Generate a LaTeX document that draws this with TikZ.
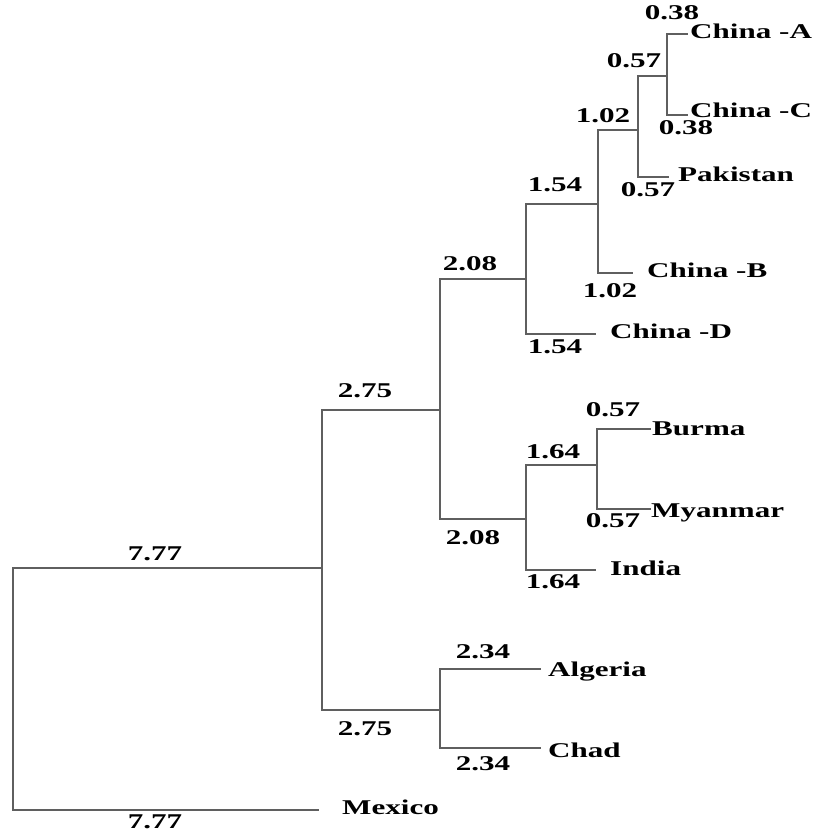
\documentclass[tikz,border=0pt]{standalone}
\usepackage{fontspec}
\newfontfamily\labfont[FakeStretch=1.48]{Liberation Serif}
\definecolor{branch}{RGB}{95,95,95}
\tikzset{
  br/.style={draw=branch, line width=1.8pt, line cap=rect},
  lab/.style={font=\labfont\bfseries\fontsize{21}{25}\selectfont, inner sep=0pt, text height=14pt, text depth=4pt},
  leaf/.style={lab, anchor=west},
}
\begin{document}
\begin{tikzpicture}[x=1pt,y=-1pt]
\useasboundingbox (0,0) rectangle (820,834);
% internal nodes
\coordinate (n0) at (13,689);
\coordinate (n1) at (322,568);
\coordinate (n2) at (440,410);
\coordinate (n3) at (526,279);
\coordinate (n4) at (598,204);
\coordinate (n5) at (638,130);
\coordinate (n6) at (667,76);
\coordinate (n7) at (526,519);
\coordinate (n8) at (597,465);
\coordinate (n9) at (440,710);
% tips
\coordinate (tA) at (687,34);
\coordinate (tC) at (687,115);
\coordinate (tP) at (668,177);
\coordinate (tB) at (632,273);
\coordinate (tD) at (595,334);
\coordinate (tBu) at (650,429);
\coordinate (tMy) at (650,509);
\coordinate (tIn) at (595,570);
\coordinate (tAl) at (540,669);
\coordinate (tCh) at (540,748);
\coordinate (tMe) at (318,810);
% branches
\draw[br] (n1) -| (n0) |- (tMe);
\draw[br] (n2) -| (n1) |- (n9);
\draw[br] (n3) -| (n2) |- (n7);
\draw[br] (n4) -| (n3) |- (tD);
\draw[br] (n5) -| (n4) |- (tB);
\draw[br] (n6) -| (n5) |- (tP);
\draw[br] (tA) -| (n6) |- (tC);
\draw[br] (n8) -| (n7) |- (tIn);
\draw[br] (tBu) -| (n8) |- (tMy);
\draw[br] (tAl) -| (n9) |- (tCh);
% leaf labels
\node[leaf] (lA) at (690,34) {China -A};
\node[leaf] (lC) at (690,113) {China -C};
\node[leaf] (lP) at (678,177) {Pakistan};
\node[leaf] (lB) at (647,272) {China -B};
\node[leaf] (lD) at (610,333) {China -D};
\node[leaf] (lBu) at (652,430) {Burma};
\node[leaf] (lMy) at (651,512) {Myanmar};
\node[leaf] (lIn) at (610,570) {India};
\node[leaf] (lAl) at (548,671) {Algeria};
\node[leaf] (lCh) at (548,752) {Chad};
\node[leaf] (lMe) at (342,809) {Mexico};
% branch lengths
\node[lab] (d1) at (155,555) {7.77};
\node[lab] (d2) at (155,823) {7.77};
\node[lab] (d3) at (365,392) {2.75};
\node[lab] (d4) at (365,730) {2.75};
\node[lab] (d5) at (470,265) {2.08};
\node[lab] (d6) at (473,539) {2.08};
\node[lab] (d7) at (555,187) {1.54};
\node[lab] (d8) at (555,348) {1.54};
\node[lab] (d9) at (603,118) {1.02};
\node[lab] (d10) at (610,292) {1.02};
\node[lab] (d11) at (634,63) {0.57};
\node[lab] (d12) at (648,192) {0.57};
\node[lab] (d13) at (672,15) {0.38};
\node[lab] (d14) at (686,130) {0.38};
\node[lab] (d15) at (553,453) {1.64};
\node[lab] (d16) at (553,583) {1.64};
\node[lab] (d17) at (613,411) {0.57};
\node[lab] (d18) at (613,522) {0.57};
\node[lab] (d19) at (483,653) {2.34};
\node[lab] (d20) at (483,765) {2.34};
\end{tikzpicture}
\end{document}
